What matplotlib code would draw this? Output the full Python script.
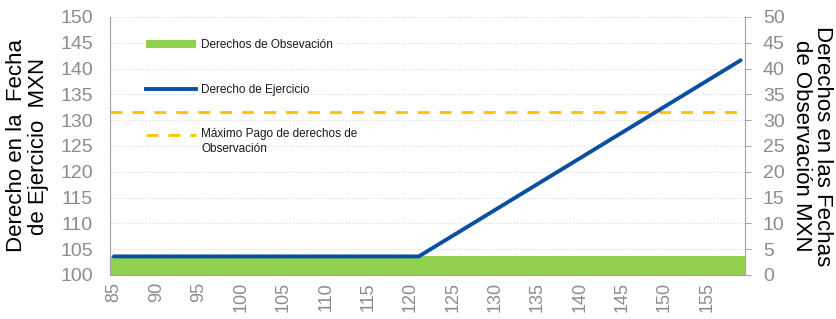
#!/usr/bin/env python3

import numpy as np
import matplotlib
matplotlib.use('Agg')
from matplotlib import pyplot as plt
from matplotlib.lines import Line2D
from matplotlib.patches import Patch
from matplotlib.legend_handler import HandlerLine2D

plt.rcParams['font.family'] = ['Liberation Sans', 'DejaVu Sans']

# strike levels on the category axis
strikes = np.arange(85, 160)
# observation rights (right axis, MXN), constant over strikes
obs_right = 3.6
obs_values = [obs_right] * len(strikes)
# exercise right (left axis): kink points
exercise_x = [85, 121, 159]
exercise_y = [103.6, 103.6, 141.6]
# maximum payment of observation rights (right axis)
max_payment = 31.6

x_ticks = list(range(85, 160, 5))
left_ticks = list(range(100, 151, 5))
right_ticks = list(range(0, 51, 5))

GREEN = '#92d050'
BLUE = '#0b4fa3'
YELLOW = '#ffc000'
GRAY = '#8c8c8c'
SPINE = '#a6a6a6'
DASH = (4.3, 3.6)


class HandlerFirstLine(HandlerLine2D):
    """ Line handle aligned with the first line of a two-line label """
    def create_artists(self, legend, orig_handle, xdescent, ydescent,
                       width, height, fontsize, trans):
        artists = super().create_artists(legend, orig_handle, xdescent,
                                         ydescent, width, height,
                                         fontsize, trans)
        for a in artists:
            a.set_ydata(np.asarray(a.get_ydata()) + 0.65 * fontsize)
        return artists


def main():
    fig = plt.figure(figsize=(8.37, 3.19), dpi=100)
    ax = fig.add_axes([0.131, 0.138, 0.759, 0.809])
    ax2 = ax.twinx()
    # left axis on top so the exercise line covers the green bars
    ax.set_zorder(ax2.get_zorder() + 1)
    ax.patch.set_visible(False)

    ax2.bar(strikes, obs_values, width=1.0, color=GREEN, linewidth=0)
    ax2.axhline(max_payment, color=YELLOW, lw=2.0, dashes=DASH)
    ax.plot(exercise_x, exercise_y, color=BLUE, lw=2.8,
            solid_capstyle='round')

    ax.set_xlim(84.5, 159.5)
    ax.set_ylim(100, 150)
    ax2.set_ylim(0, 50)
    ax.set_xticks(x_ticks)
    ax.set_yticks(left_ticks)
    ax2.set_yticks(right_ticks)

    ax.grid(axis='y', color='#d9d9d9', linestyle=':', linewidth=0.8)
    ax.set_axisbelow(True)

    for a in (ax, ax2):
        a.spines['top'].set_visible(False)
        for s in ('left', 'right', 'bottom'):
            a.spines[s].set_color(SPINE)
    ax.tick_params(axis='x', rotation=90, colors=GRAY, labelsize=13,
                   length=0, pad=5)
    ax.tick_params(axis='y', colors=GRAY, labelsize=14, length=0, pad=12)
    ax2.tick_params(axis='y', colors=SPINE, labelcolor=GRAY, labelsize=14,
                    length=4, pad=9)

    ax.set_ylabel("Derecho en la  Fecha\nde Ejercicio  MXN", fontsize=16,
                  color='black', labelpad=8, linespacing=1.05)
    ax2.set_ylabel("Derechos en las Fechas\nde Observación MXN", fontsize=16,
                   color='black', rotation=270, labelpad=35, linespacing=1.05)

    dashed = Line2D([], [], color=YELLOW, lw=2.0, dashes=DASH)
    handles = [
        Patch(facecolor=GREEN, edgecolor='none'),
        Line2D([], [], color=BLUE, lw=2.8),
        dashed,
    ]
    labels = ["Derechos de Obsevación", "Derecho de Ejercicio",
              "Máximo Pago de derechos de\nObservación"]
    leg = ax.legend(handles, labels, loc='upper left',
                    bbox_to_anchor=(0.04, 0.955), frameon=False,
                    fontsize=8.5, handlelength=4.3, handleheight=0.55,
                    handletextpad=0.4, labelspacing=2.75,
                    handler_map={dashed: HandlerFirstLine()})
    for t in leg.get_texts():
        t.set_color('#1a1a1a')
        t.set_linespacing(1.35)

    plt.savefig('out.png', dpi=100)


if __name__ == "__main__":
    main()
